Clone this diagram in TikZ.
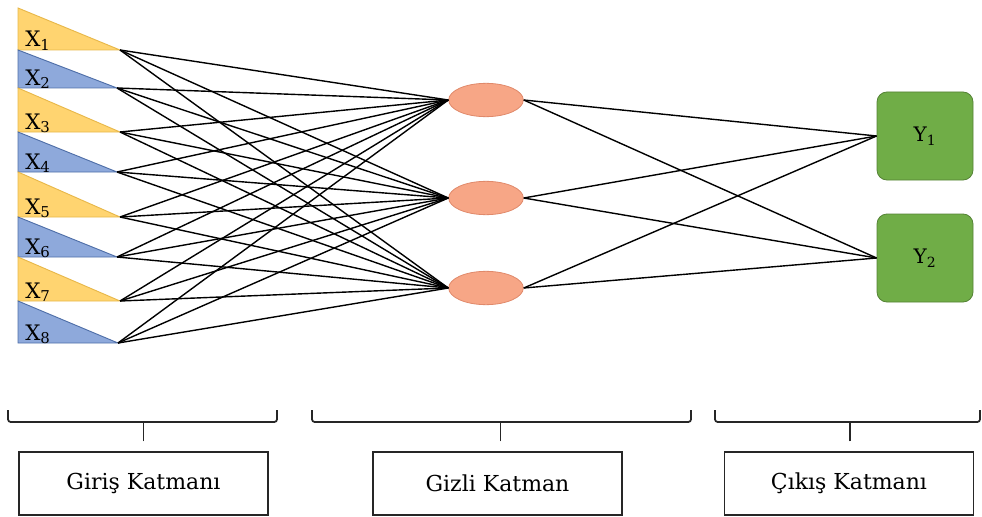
\documentclass[tikz,border=0pt]{standalone}
\usepackage{fontspec}
\setmainfont{DejaVu Serif}
\usetikzlibrary{shapes.geometric}

\definecolor{yelF}{HTML}{FFD470}
\definecolor{yelD}{HTML}{E8B84A}
\definecolor{bluF}{HTML}{8EA9DB}
\definecolor{bluD}{HTML}{4F6FA8}
\definecolor{hidF}{HTML}{F7A686}
\definecolor{hidD}{HTML}{E0896A}
\definecolor{outF}{HTML}{70AD47}
\definecolor{outD}{HTML}{548235}

\tikzset{
  conn/.style={draw=black, line width=1.05pt},
  hidden/.style={ellipse, fill=hidF, draw=hidD, line width=0.6pt,
    minimum width=56pt, minimum height=25pt, inner sep=0pt},
  outnode/.style={rectangle, rounded corners=7.5pt, fill=outF, draw=outD,
    line width=0.6pt, minimum width=72pt, minimum height=66pt,
    font=\fontsize{15}{17}\selectfont},
  inlabel/.style={anchor=base west, inner sep=0pt, font=\fontsize{16}{18}\selectfont},
  bracket/.style={draw=black!85, line width=1.3pt, rounded corners=2pt},
  layerbox/.style={rectangle, draw=black!85, line width=1.2pt, minimum width=186.75pt,
    minimum height=47pt, font=\fontsize{16.5}{19}\selectfont}
}

\begin{document}
\begin{tikzpicture}[x=0.75pt,y=-0.75pt]
\useasboundingbox (0,0) rectangle (982,517);

% input units: right triangles with their tips facing the hidden layer
\foreach \i/\t/\b/\tip/\cf/\cd in {
  1/8/50/120/yelF/yelD, 2/50/88/117/bluF/bluD,
  3/88/132/120/yelF/yelD, 4/132/172/117/bluF/bluD,
  5/172/217/120/yelF/yelD, 6/217/257/117/bluF/bluD,
  7/257/301/120/yelF/yelD, 8/301/343/118/bluF/bluD}{
  \filldraw[fill=\cf, draw=\cd, line width=0.7pt] (18,\t) -- (\tip,\b) -- (18,\b) -- cycle;
  \coordinate (x\i) at (\tip,\b);
  \node[inlabel] (lx\i) at (25,\b-3) {X\textsubscript{\i}};
}

% hidden units
\node[hidden] (h1) at (486,100) {};
\node[hidden] (h2) at (486,198) {};
\node[hidden] (h3) at (486,288) {};

% output units
\node[outnode] (y1) at (925,136) {Y\textsubscript{1}};
\node[outnode] (y2) at (925,258) {Y\textsubscript{2}};

% connections
\foreach \i in {1,...,8}
  \foreach \h in {1,2,3}
    \draw[conn] (x\i) -- (h\h.west);
\foreach \h in {1,2,3}
  \foreach \o in {1,2}
    \draw[conn] (h\h.east) -- (y\o.west);

% layer captions
\node[layerbox] (l1) at (143.5,483.5) {Giriş Katmanı};
\node[layerbox] (l2) at (497.5,483.5) {Gizli Katman};
\node[layerbox] (l3) at (849,483.5) {Çıkış Katmanı};

% brackets over the captions
\draw[bracket] (8,410) -- (8,422) -- (277,422) -- (277,410);
\draw[bracket] (312,410) -- (312,422) -- (691,422) -- (691,410);
\draw[bracket] (715,410) -- (715,422) -- (980,422) -- (980,410);
\draw[bracket] (l1.north) ++(0,-10) -- ++(0,-20);
\draw[bracket] (l2.north) ++(3,-10) -- ++(0,-20);
\draw[bracket] (l3.north) ++(1,-10) -- ++(0,-20);
\end{tikzpicture}
\end{document}
